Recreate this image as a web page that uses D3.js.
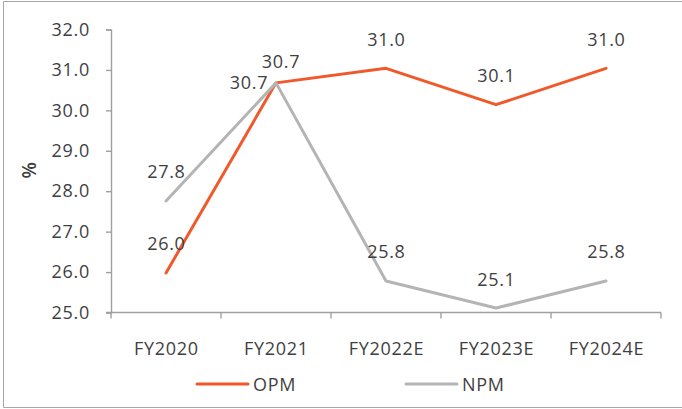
<!DOCTYPE html>
<html>
<head>
<meta charset="utf-8">
<script src="https://cdn.jsdelivr.net/npm/d3@7"></script>
<style>
  html, body { margin: 0; padding: 0; background: #fff; }
  svg { display: block; }
  text { font-family: "Open Sans", sans-serif; font-size: 18px; fill: #3f3f3f; letter-spacing: 0.7px; }
</style>
</head>
<body>
<svg id="chart" width="682" height="409"></svg>
<script>
// Fiscal years on the x axis
const years = ["FY2020", "FY2021", "FY2022E", "FY2023E", "FY2024E"];
// Operating profit margin (%)
const opm = [25.98, 30.68, 31.04, 30.14, 31.04];
// Net profit margin (%)
const npm = [27.76, 30.68, 25.78, 25.11, 25.78];
// Y axis ticks
const yTicks = [25, 26, 27, 28, 29, 30, 31, 32];

const seriesList = [
  { name: "OPM", values: opm, color: "#F0592B" },
  { name: "NPM", values: npm, color: "#B4B4B4" }
];

const svg = d3.select("#chart");
const W = 682, H = 409;
const plot = { left: 111, right: 661, top: 29.5, bottom: 312.5 };

// outer frame (open on the right)
svg.append("path")
  .attr("d", `M${W + 2},1.5 H3.5 V407.5 H${W + 2}`)
  .attr("fill", "none")
  .attr("stroke", "#A6A6A6")
  .attr("stroke-width", 1);

const x = d3.scaleBand().domain(years).range([plot.left, plot.right]).padding(0);
const y = d3.scaleLinear().domain([25, 32]).range([plot.bottom, plot.top]);
const cx = d => x(d) + x.bandwidth() / 2;

// Y axis
const yAxis = svg.append("g")
  .attr("transform", `translate(${plot.left},0)`)
  .call(d3.axisLeft(y).tickValues(yTicks).tickFormat(d3.format(".1f")).tickSize(5).tickPadding(16));
yAxis.select(".domain").attr("stroke", "#A0A0A0").attr("stroke-width", 1.4);
yAxis.selectAll(".tick line").attr("stroke", "#A0A0A0").attr("stroke-width", 1.4);
yAxis.selectAll(".tick text").attr("font-size", null).attr("font-family", null).attr("fill", "#3f3f3f");

// X axis: ticks at category boundaries
const xAxisG = svg.append("g").attr("transform", `translate(0,${plot.bottom})`);
xAxisG.append("line")
  .attr("x1", plot.left - 5).attr("x2", plot.right)
  .attr("stroke", "#A0A0A0").attr("stroke-width", 1.4);
const edges = years.map(d => x(d)).concat([x(years[years.length - 1]) + x.bandwidth()]);
xAxisG.selectAll("line.tk").data(edges).enter().append("line")
  .attr("class", "tk")
  .attr("x1", d => d).attr("x2", d => d)
  .attr("y1", 0).attr("y2", 6)
  .attr("stroke", "#A0A0A0").attr("stroke-width", 1.4);
xAxisG.selectAll("text").data(years).enter().append("text")
  .attr("x", d => cx(d) + 0.4)
  .attr("y", 35)
  .attr("text-anchor", "middle")
  .attr("dominant-baseline", "central")
  .text(d => d);

// Y axis title
svg.append("text")
  .attr("transform", "translate(29,170) rotate(-90)")
  .attr("text-anchor", "middle")
  .attr("dominant-baseline", "central")
  .style("font-size", "19px")
  .style("font-weight", "600")
  .text("%");

// Lines
const line = d3.line().x((d, i) => cx(years[i])).y(d => y(d));
seriesList.forEach(s => {
  svg.append("path")
    .datum(s.values)
    .attr("d", line)
    .attr("fill", "none")
    .attr("stroke", s.color)
    .attr("stroke-width", 3)
    .attr("stroke-linejoin", "round")
    .attr("stroke-linecap", "round");
});

// Data labels, placed above each point; the shared FY2021 point gets split labels
const fmt = d3.format(".1f");
seriesList.forEach((s, si) => {
  svg.append("g").selectAll("text").data(s.values).enter().append("text")
    .attr("x", (d, i) => {
      let off = 0.4;
      if (i === 1) off = si === 0 ? -27 : 5;
      return cx(years[i]) + off;
    })
    .attr("y", (d, i) => {
      let off = -29.5;
      if (i === 1) off = si === 0 ? -1 : -22;
      return y(d) + off;
    })
    .attr("text-anchor", "middle")
    .attr("dominant-baseline", "central")
    .text(d => fmt(d));
});

// Legend
const legendX = [197, 406];
const legend = svg.append("g");
seriesList.forEach((s, i) => {
  const g = legend.append("g").attr("transform", `translate(${legendX[i]},384)`);
  g.append("line")
    .attr("x1", 0).attr("x2", 51)
    .attr("stroke", s.color).attr("stroke-width", 3)
    .attr("stroke-linecap", "round");
  g.append("text")
    .attr("x", 56).attr("y", 0)
    .attr("dominant-baseline", "central")
    .text(s.name);
});
</script>
</body>
</html>
